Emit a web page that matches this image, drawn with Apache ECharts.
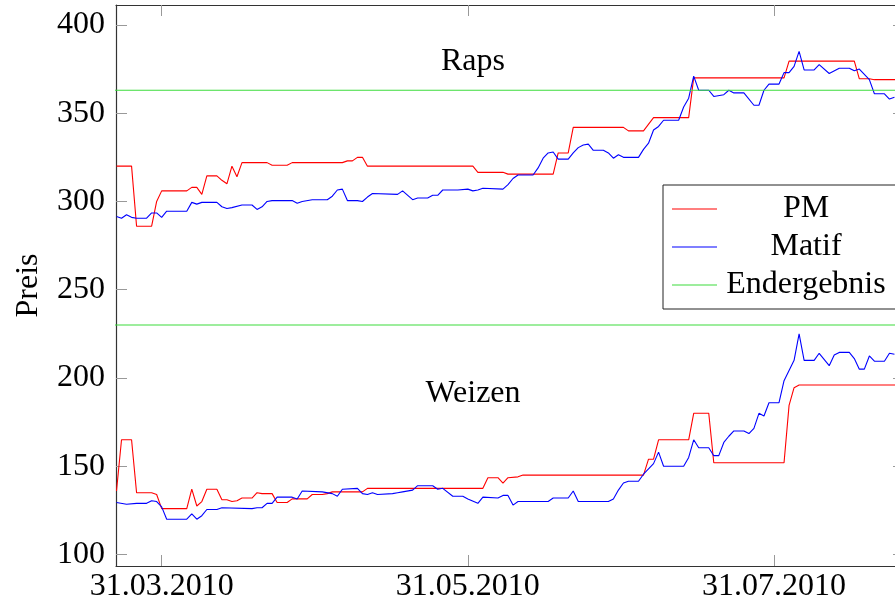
<!DOCTYPE html>
<html><head><meta charset="utf-8">
<script src="https://cdn.jsdelivr.net/npm/echarts@6/dist/echarts.min.js"></script>
<style>html,body{margin:0;padding:0;background:#fff}#c{width:895px;height:602px}</style>
</head><body><div id="c"></div>
<script>
// ---- data ----
const xTickDates = ['2010-03-31', '2010-05-31', '2010-07-31'];
const yTicks = [100, 150, 200, 250, 300, 350, 400];
const seriesNames = ['PM', 'Matif', 'Endergebnis'];
const panelLabels = ['Raps', 'Weizen'];

const rapsPM = [['2010-03-22',320],['2010-03-25',320],['2010-03-26',286],['2010-03-29',286],['2010-03-30',300],['2010-03-31',306],['2010-04-05',306],['2010-04-06',308],['2010-04-07',308],['2010-04-08',304],['2010-04-09',314.5],['2010-04-11',314.5],['2010-04-12',312],['2010-04-13',310],['2010-04-14',320],['2010-04-15',314],['2010-04-16',322],['2010-04-21',322],['2010-04-22',320.5],['2010-04-25',320.5],['2010-04-26',322],['2010-05-06',322],['2010-05-07',323],['2010-05-08',323],['2010-05-09',325],['2010-05-10',325],['2010-05-11',320],['2010-06-01',320],['2010-06-02',316.5],['2010-06-07',316.5],['2010-06-08',315.5],['2010-06-17',315.5],['2010-06-18',327.5],['2010-06-20',327.5],['2010-06-21',342],['2010-07-01',342],['2010-07-02',340],['2010-07-05',340],['2010-07-07',347.5],['2010-07-14',347.5],['2010-07-15',370],['2010-08-02',370],['2010-08-03',379.5],['2010-08-16',379.5],['2010-08-17',369.5],['2010-08-19',369.5],['2010-08-20',369],['2010-08-26',369]];

const rapsMatif = [['2010-03-22',291.5],['2010-03-23',290.5],['2010-03-24',292.5],['2010-03-25',291],['2010-03-26',290.5],['2010-03-28',290.5],['2010-03-29',293.5],['2010-03-30',293.5],['2010-03-31',291],['2010-04-01',294.5],['2010-04-05',294.5],['2010-04-06',299.5],['2010-04-07',298.5],['2010-04-08',299.5],['2010-04-11',299.5],['2010-04-12',297],['2010-04-13',296],['2010-04-14',296.5],['2010-04-16',298],['2010-04-18',298],['2010-04-19',295.5],['2010-04-20',297],['2010-04-21',300],['2010-04-22',300.5],['2010-04-26',300.5],['2010-04-27',299],['2010-04-28',300],['2010-04-30',301],['2010-05-03',301],['2010-05-04',303],['2010-05-05',306.5],['2010-05-06',307],['2010-05-07',300.5],['2010-05-09',300.5],['2010-05-10',300],['2010-05-11',302.5],['2010-05-12',304.5],['2010-05-17',304],['2010-05-18',306],['2010-05-20',301],['2010-05-21',302],['2010-05-23',302],['2010-05-24',303.5],['2010-05-25',303.5],['2010-05-26',306.5],['2010-05-29',306.5],['2010-05-31',307],['2010-06-01',306],['2010-06-02',306.5],['2010-06-03',307.5],['2010-06-07',307],['2010-06-08',309.5],['2010-06-09',313],['2010-06-10',315],['2010-06-13',315],['2010-06-14',319],['2010-06-15',324.5],['2010-06-16',327.5],['2010-06-17',328],['2010-06-18',324],['2010-06-20',324],['2010-06-21',327.5],['2010-06-22',330.5],['2010-06-23',332],['2010-06-24',332.5],['2010-06-25',329],['2010-06-27',329],['2010-06-28',327.5],['2010-06-29',324.5],['2010-06-30',326.5],['2010-07-01',325],['2010-07-04',325],['2010-07-05',329.5],['2010-07-06',333],['2010-07-07',340.5],['2010-07-08',342.5],['2010-07-09',346],['2010-07-12',346],['2010-07-13',353.5],['2010-07-14',358.5],['2010-07-15',371],['2010-07-16',363],['2010-07-18',363],['2010-07-19',359.5],['2010-07-21',360.5],['2010-07-22',363],['2010-07-23',361.5],['2010-07-25',361.5],['2010-07-27',354.5],['2010-07-28',354.5],['2010-07-29',363],['2010-07-30',366.5],['2010-08-01',366.5],['2010-08-02',373],['2010-08-03',373],['2010-08-04',376.5],['2010-08-05',385],['2010-08-06',374.5],['2010-08-08',374.5],['2010-08-09',377.5],['2010-08-11',372.5],['2010-08-13',375.5],['2010-08-15',375.5],['2010-08-16',374],['2010-08-17',375],['2010-08-19',369],['2010-08-20',361],['2010-08-22',361],['2010-08-23',358],['2010-08-24',359]];

const weizenPM = [['2010-03-22',136],['2010-03-23',165],['2010-03-25',165],['2010-03-26',135],['2010-03-29',135],['2010-03-30',134],['2010-03-31',126],['2010-04-05',126],['2010-04-06',137],['2010-04-07',127.5],['2010-04-08',130],['2010-04-09',137],['2010-04-11',137],['2010-04-12',131],['2010-04-13',131],['2010-04-14',130],['2010-04-15',130.5],['2010-04-16',132],['2010-04-18',132],['2010-04-19',135],['2010-04-20',134.5],['2010-04-22',134.5],['2010-04-23',129.5],['2010-04-25',129.5],['2010-04-26',131.5],['2010-04-29',131.5],['2010-04-30',134],['2010-05-02',134],['2010-05-03',134.5],['2010-05-04',135.5],['2010-05-10',135.5],['2010-05-11',137.5],['2010-06-03',137.5],['2010-06-04',143.5],['2010-06-06',143.5],['2010-06-07',140.5],['2010-06-08',143.5],['2010-06-10',144],['2010-06-11',145],['2010-07-05',145],['2010-07-06',154],['2010-07-07',154],['2010-07-08',165],['2010-07-14',165],['2010-07-15',180],['2010-07-18',180],['2010-07-19',152],['2010-08-02',152],['2010-08-03',184.5],['2010-08-04',194.5],['2010-08-05',196],['2010-08-26',196]];

const weizenMatif = [['2010-03-22',129.5],['2010-03-24',128.5],['2010-03-26',129],['2010-03-28',129],['2010-03-29',130.5],['2010-03-30',130],['2010-03-31',127],['2010-04-01',120],['2010-04-05',120],['2010-04-06',123],['2010-04-07',120],['2010-04-08',122],['2010-04-09',125.5],['2010-04-11',125.5],['2010-04-12',126.5],['2010-04-18',126],['2010-04-19',126.5],['2010-04-20',126.5],['2010-04-21',129],['2010-04-22',129],['2010-04-23',132.5],['2010-04-26',132.5],['2010-04-27',131.5],['2010-04-28',136],['2010-05-02',135.5],['2010-05-04',134.5],['2010-05-05',133],['2010-05-06',137],['2010-05-09',137.5],['2010-05-10',134.5],['2010-05-11',134],['2010-05-12',135],['2010-05-13',134],['2010-05-16',134.5],['2010-05-17',135],['2010-05-18',135.5],['2010-05-20',136.5],['2010-05-21',139],['2010-05-24',139],['2010-05-25',137],['2010-05-26',137.5],['2010-05-28',133],['2010-05-30',133],['2010-05-31',131.5],['2010-06-02',129],['2010-06-03',132.5],['2010-06-06',132],['2010-06-07',133.5],['2010-06-08',133.5],['2010-06-09',128],['2010-06-10',130],['2010-06-16',130],['2010-06-17',132],['2010-06-20',132],['2010-06-21',136],['2010-06-22',130],['2010-06-28',130],['2010-06-29',131.5],['2010-06-30',136.5],['2010-07-01',140.5],['2010-07-02',141.5],['2010-07-04',141.5],['2010-07-05',145.5],['2010-07-07',151.5],['2010-07-08',158],['2010-07-09',150],['2010-07-13',150],['2010-07-14',155],['2010-07-15',165],['2010-07-16',160.5],['2010-07-18',160.5],['2010-07-19',156],['2010-07-20',156],['2010-07-21',163.5],['2010-07-22',167],['2010-07-23',170],['2010-07-25',170],['2010-07-26',168.5],['2010-07-27',171.5],['2010-07-28',180],['2010-07-29',178.5],['2010-07-30',186],['2010-08-01',186],['2010-08-02',198.5],['2010-08-04',210],['2010-08-05',225],['2010-08-06',210],['2010-08-08',210],['2010-08-09',214],['2010-08-11',207],['2010-08-12',213],['2010-08-13',214.5],['2010-08-15',214.5],['2010-08-16',211],['2010-08-17',205],['2010-08-18',205],['2010-08-19',212.5],['2010-08-20',209.5],['2010-08-22',209.5],['2010-08-23',214],['2010-08-24',213.5]];

const rapsEnd = [['2010-03-21',363],['2010-08-27',363]];
const weizenEnd = [['2010-03-21',230],['2010-08-27',230]];

// ---- helpers ----
const DAY = 86400000;
function ts(s) { const p = s.split('-').map(Number); return Date.UTC(p[0], p[1] - 1, p[2]); }
function pts(arr) { return arr.map(p => [ts(p[0]), p[1]]); }
function pad(n) { return (n < 10 ? '0' : '') + n; }
function fmt(v) { const d = new Date(v); return pad(d.getUTCDate()) + '.' + pad(d.getUTCMonth() + 1) + '.' + d.getUTCFullYear(); }

const FONT = 'Liberation Serif';
const FS = 32;
const xTickVals = xTickDates.map(ts);
const xMin = ts(xTickDates[0]) - 9.1 * DAY;
const xMax = ts(xTickDates[0]) + 147.9 * DAY;
const yMin = 93.5, yMax = 411.3;

const colors = { PM: '#ff0000', Matif: '#0000ff', Endergebnis: '#3cdc3c' };
function mk(name, data) {
  return {
    type: 'line', name: name, data: pts(data), symbol: 'none', showSymbol: false,
    lineStyle: { color: colors[name], width: 1.1 }, itemStyle: { color: colors[name] },
    emphasis: { disabled: true }, animation: false, clip: true
  };
}

const frame = { show: true, onZero: false, lineStyle: { color: '#333', width: 1.2 } };
const tickStyle = { color: '#999', width: 1 };

const chart = echarts.init(document.getElementById('c'), null, { renderer: 'canvas' });
chart.setOption({
  animation: false,
  backgroundColor: '#fff',
  grid: { left: 116, top: 5, width: 788, bottom: 36, containLabel: false, outerBoundsMode: 'none' },
  xAxis: [{
    type: 'value', position: 'bottom', min: xMin, max: xMax, scale: true,
    axisLine: frame,
    axisTick: { show: true, inside: true, length: 11, lineStyle: tickStyle, customValues: xTickVals },
    axisLabel: { customValues: xTickVals, formatter: fmt, margin: 5, color: '#000', fontFamily: FONT, fontSize: FS },
    splitLine: { show: false }
  }, {
    type: 'value', position: 'top', min: xMin, max: xMax, scale: true,
    axisLine: frame,
    axisTick: { show: true, inside: true, length: 11, lineStyle: tickStyle, customValues: xTickVals },
    axisLabel: { show: false }, splitLine: { show: false }
  }],
  yAxis: [{
    type: 'value', position: 'left', min: yMin, max: yMax,
    name: 'Preis', nameLocation: 'middle', nameGap: 71, nameRotate: 90,
    nameTextStyle: { color: '#000', fontFamily: FONT, fontSize: FS },
    axisLine: frame,
    axisTick: { show: true, inside: true, length: 11, lineStyle: tickStyle, customValues: yTicks },
    axisLabel: { customValues: yTicks, margin: 11, color: '#000', fontFamily: FONT, fontSize: FS },
    splitLine: { show: false }
  }, {
    type: 'value', position: 'right', min: yMin, max: yMax,
    axisLine: frame,
    axisTick: { show: true, inside: true, length: 11, lineStyle: tickStyle, customValues: yTicks },
    axisLabel: { show: false }, splitLine: { show: false }
  }],
  legend: {
    orient: 'vertical', left: 663, top: 185, data: seriesNames, selectedMode: false,
    icon: 'rect', itemWidth: 45, itemHeight: 1.2, itemGap: 6,
    padding: [8, 9, 8, 9], backgroundColor: '#fff', borderColor: '#222', borderWidth: 1, borderRadius: 0,
    formatter: n => '{a|' + n + '}',
    textStyle: { rich: { a: { width: 168, align: 'center', fontFamily: FONT, fontSize: FS, lineHeight: 31, color: '#000' } } }
  },
  graphic: [
    { type: 'text', x: 473, y: 62, style: { text: panelLabels[0], fill: '#000', font: FS + 'px "' + FONT + '"', align: 'center', verticalAlign: 'middle' } },
    { type: 'text', x: 473, y: 394, style: { text: panelLabels[1], fill: '#000', font: FS + 'px "' + FONT + '"', align: 'center', verticalAlign: 'middle' } }
  ],
  series: [
    mk('PM', rapsPM), mk('PM', weizenPM),
    mk('Matif', rapsMatif), mk('Matif', weizenMatif),
    mk('Endergebnis', rapsEnd), mk('Endergebnis', weizenEnd)
  ]
});
</script></body></html>
